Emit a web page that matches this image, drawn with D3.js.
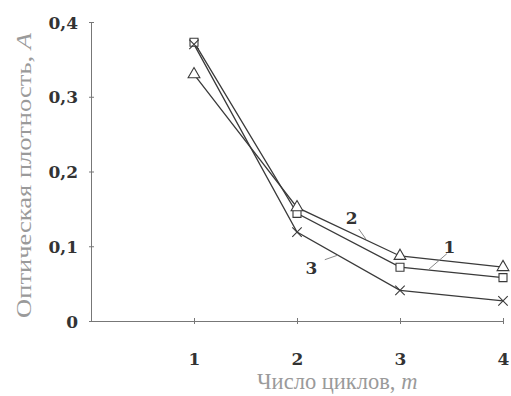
<!DOCTYPE html>
<html>
<head>
<meta charset="utf-8">
<script src="https://cdn.jsdelivr.net/npm/d3@7"></script>
<style>
  body { margin: 0; background: #fff; }
  svg { display: block; }
  .tick text { font-family: "DejaVu Serif", serif; font-weight: bold; font-size: 17px; fill: #333; }
</style>
</head>
<body>
<svg width="511" height="396"></svg>
<script>
const cycles = [1, 2, 3, 4]
const yTicks = [0, 0.1, 0.2, 0.3, 0.4]
const curve1 = [0.373, 0.144, 0.072, 0.058]   // квадраты
const curve2 = [0.330, 0.152, 0.087, 0.072]   // треугольники
const curve3 = [0.370, 0.119, 0.041, 0.027]   // крестики

// подписи кривых: номер, точка текста, начало и конец выноски (в координатах данных)
const curveLabels = [
  {name: "1", at: [3.48, 0.099], from: [3.455, 0.090], to: [3.27, 0.068]},
  {name: "2", at: [2.53, 0.138], from: [2.60, 0.123], to: [2.667, 0.110]},
  {name: "3", at: [2.14, 0.071], from: [2.27, 0.082], to: [2.394, 0.088]}
]

const width = 511
const height = 396
const margin = ({top: 22, right: 8, bottom: 75, left: 91})

const svg = d3.select("svg")
const ink = "#3a3a3a"

const x = d3.scaleLinear()
  .domain([0, 4])
  .range([margin.left, width - margin.right])

const y = d3.scaleLinear()
  .domain([0, 0.4])
  .range([height - margin.bottom, margin.top])

const fmt = d => d === 0 ? "0" : d3.format(".1f")(d).replace(".", ",")

// ось Y
svg.append("g")
  .attr("transform", `translate(${margin.left},0)`)
  .call(d3.axisLeft(y).tickValues(yTicks).tickFormat(fmt).tickSizeOuter(0).tickPadding(7))
  .call(g => g.select(".domain").attr("stroke", "#777"))
  .call(g => g.selectAll(".tick line").attr("x1", -2).attr("x2", 3).attr("stroke", "#777"))
  .call(g => g.selectAll(".tick text").attr("dy", "0.36em"))

// ось X
svg.append("g")
  .attr("transform", `translate(0,${y(0)})`)
  .call(d3.axisBottom(x).tickValues(cycles).tickFormat(d3.format("d")).tickSizeOuter(0).tickPadding(26))
  .call(g => g.select(".domain").attr("stroke", "#777"))
  .call(g => g.selectAll(".tick line").attr("y1", -3).attr("y2", 3).attr("stroke", "#777"))

// подписи осей
svg.append("text")
  .attr("transform", `translate(31,${(318 + 33) / 2}) rotate(-90)`)
  .attr("text-anchor", "middle")
  .attr("font-family", "Liberation Serif, serif")
  .attr("font-size", 21)
  .attr("fill", "#9a9a9a")
  .attr("textLength", 285)
  .attr("lengthAdjust", "spacingAndGlyphs")
  .call(t => {
    t.append("tspan").text("Оптическая плотность, ")
    t.append("tspan").attr("font-style", "italic").text("A")
  })

svg.append("text")
  .attr("x", 257)
  .attr("y", 389)
  .attr("font-family", "Liberation Serif, serif")
  .attr("font-size", 22.5)
  .attr("fill", "#9a9a9a")
  .call(t => {
    t.append("tspan").text("Число циклов, ")
    t.append("tspan").attr("font-style", "italic").text("m")
  })

// линии
const line = d3.line()
  .x((d, i) => x(cycles[i]))
  .y(d => y(d))

const series = [
  {values: curve1, marker: "square"},
  {values: curve2, marker: "triangle"},
  {values: curve3, marker: "cross"}
]

svg.append("g")
  .selectAll("path")
  .data(series)
  .join("path")
  .attr("d", d => line(d.values))
  .attr("fill", "none")
  .attr("stroke", ink)
  .attr("stroke-width", 1.3)

// маркеры
const symbols = {
  square: d3.symbol(d3.symbolSquare, 64),
  triangle: d3.symbol(d3.symbolTriangle, 60),
  cross: d3.symbol(d3.symbolX, 60)
}

series.forEach(s => {
  svg.append("g")
    .selectAll("path")
    .data(s.values)
    .join("path")
    .attr("transform", (d, i) => `translate(${x(cycles[i])},${y(d)})`)
    .attr("d", symbols[s.marker])
    .attr("fill", s.marker === "cross" ? "none" : "#fff")
    .attr("stroke", ink)
    .attr("stroke-width", 1.1)
})

// номера кривых с выносками
const lab = svg.append("g")
lab.selectAll("line")
  .data(curveLabels)
  .join("line")
  .attr("x1", d => x(d.from[0]))
  .attr("y1", d => y(d.from[1]))
  .attr("x2", d => x(d.to[0]))
  .attr("y2", d => y(d.to[1]))
  .attr("stroke", "#888")
  .attr("stroke-width", 1)

lab.selectAll("text")
  .data(curveLabels)
  .join("text")
  .attr("x", d => x(d.at[0]))
  .attr("y", d => y(d.at[1]))
  .attr("dy", "0.36em")
  .attr("text-anchor", "middle")
  .attr("font-family", "DejaVu Serif, serif")
  .attr("font-weight", "bold")
  .attr("font-size", 17)
  .attr("fill", "#333")
  .text(d => d.name)
</script>
</body>
</html>
